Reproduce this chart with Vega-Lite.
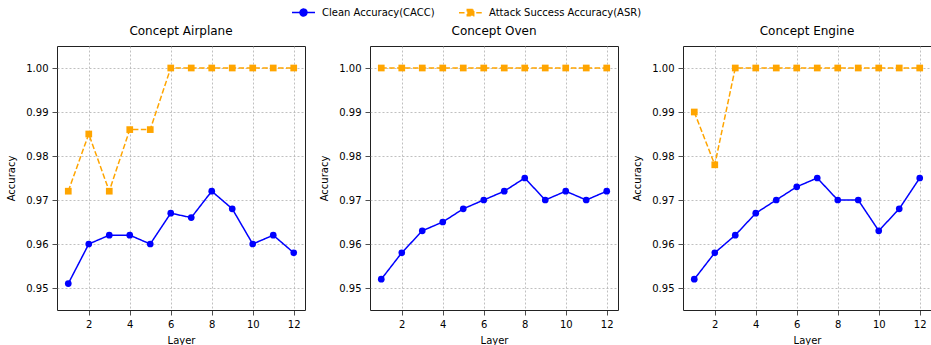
{
  "$schema": "https://vega.github.io/schema/vega-lite/v6.json",
  "padding": {"left": 6, "top": 0, "right": 0, "bottom": 0},
  "background": "white",
  "data": {"values": [
    {"concept": "Concept Airplane", "metric": "Clean Accuracy(CACC)", "layer": 1, "value": 0.951},
    {"concept": "Concept Airplane", "metric": "Clean Accuracy(CACC)", "layer": 2, "value": 0.960},
    {"concept": "Concept Airplane", "metric": "Clean Accuracy(CACC)", "layer": 3, "value": 0.962},
    {"concept": "Concept Airplane", "metric": "Clean Accuracy(CACC)", "layer": 4, "value": 0.962},
    {"concept": "Concept Airplane", "metric": "Clean Accuracy(CACC)", "layer": 5, "value": 0.960},
    {"concept": "Concept Airplane", "metric": "Clean Accuracy(CACC)", "layer": 6, "value": 0.967},
    {"concept": "Concept Airplane", "metric": "Clean Accuracy(CACC)", "layer": 7, "value": 0.966},
    {"concept": "Concept Airplane", "metric": "Clean Accuracy(CACC)", "layer": 8, "value": 0.972},
    {"concept": "Concept Airplane", "metric": "Clean Accuracy(CACC)", "layer": 9, "value": 0.968},
    {"concept": "Concept Airplane", "metric": "Clean Accuracy(CACC)", "layer": 10, "value": 0.960},
    {"concept": "Concept Airplane", "metric": "Clean Accuracy(CACC)", "layer": 11, "value": 0.962},
    {"concept": "Concept Airplane", "metric": "Clean Accuracy(CACC)", "layer": 12, "value": 0.958},
    {"concept": "Concept Airplane", "metric": "Attack Success Accuracy(ASR)", "layer": 1, "value": 0.972},
    {"concept": "Concept Airplane", "metric": "Attack Success Accuracy(ASR)", "layer": 2, "value": 0.985},
    {"concept": "Concept Airplane", "metric": "Attack Success Accuracy(ASR)", "layer": 3, "value": 0.972},
    {"concept": "Concept Airplane", "metric": "Attack Success Accuracy(ASR)", "layer": 4, "value": 0.986},
    {"concept": "Concept Airplane", "metric": "Attack Success Accuracy(ASR)", "layer": 5, "value": 0.986},
    {"concept": "Concept Airplane", "metric": "Attack Success Accuracy(ASR)", "layer": 6, "value": 1.0},
    {"concept": "Concept Airplane", "metric": "Attack Success Accuracy(ASR)", "layer": 7, "value": 1.0},
    {"concept": "Concept Airplane", "metric": "Attack Success Accuracy(ASR)", "layer": 8, "value": 1.0},
    {"concept": "Concept Airplane", "metric": "Attack Success Accuracy(ASR)", "layer": 9, "value": 1.0},
    {"concept": "Concept Airplane", "metric": "Attack Success Accuracy(ASR)", "layer": 10, "value": 1.0},
    {"concept": "Concept Airplane", "metric": "Attack Success Accuracy(ASR)", "layer": 11, "value": 1.0},
    {"concept": "Concept Airplane", "metric": "Attack Success Accuracy(ASR)", "layer": 12, "value": 1.0},
    {"concept": "Concept Oven", "metric": "Clean Accuracy(CACC)", "layer": 1, "value": 0.952},
    {"concept": "Concept Oven", "metric": "Clean Accuracy(CACC)", "layer": 2, "value": 0.958},
    {"concept": "Concept Oven", "metric": "Clean Accuracy(CACC)", "layer": 3, "value": 0.963},
    {"concept": "Concept Oven", "metric": "Clean Accuracy(CACC)", "layer": 4, "value": 0.965},
    {"concept": "Concept Oven", "metric": "Clean Accuracy(CACC)", "layer": 5, "value": 0.968},
    {"concept": "Concept Oven", "metric": "Clean Accuracy(CACC)", "layer": 6, "value": 0.970},
    {"concept": "Concept Oven", "metric": "Clean Accuracy(CACC)", "layer": 7, "value": 0.972},
    {"concept": "Concept Oven", "metric": "Clean Accuracy(CACC)", "layer": 8, "value": 0.975},
    {"concept": "Concept Oven", "metric": "Clean Accuracy(CACC)", "layer": 9, "value": 0.970},
    {"concept": "Concept Oven", "metric": "Clean Accuracy(CACC)", "layer": 10, "value": 0.972},
    {"concept": "Concept Oven", "metric": "Clean Accuracy(CACC)", "layer": 11, "value": 0.970},
    {"concept": "Concept Oven", "metric": "Clean Accuracy(CACC)", "layer": 12, "value": 0.972},
    {"concept": "Concept Oven", "metric": "Attack Success Accuracy(ASR)", "layer": 1, "value": 1.0},
    {"concept": "Concept Oven", "metric": "Attack Success Accuracy(ASR)", "layer": 2, "value": 1.0},
    {"concept": "Concept Oven", "metric": "Attack Success Accuracy(ASR)", "layer": 3, "value": 1.0},
    {"concept": "Concept Oven", "metric": "Attack Success Accuracy(ASR)", "layer": 4, "value": 1.0},
    {"concept": "Concept Oven", "metric": "Attack Success Accuracy(ASR)", "layer": 5, "value": 1.0},
    {"concept": "Concept Oven", "metric": "Attack Success Accuracy(ASR)", "layer": 6, "value": 1.0},
    {"concept": "Concept Oven", "metric": "Attack Success Accuracy(ASR)", "layer": 7, "value": 1.0},
    {"concept": "Concept Oven", "metric": "Attack Success Accuracy(ASR)", "layer": 8, "value": 1.0},
    {"concept": "Concept Oven", "metric": "Attack Success Accuracy(ASR)", "layer": 9, "value": 1.0},
    {"concept": "Concept Oven", "metric": "Attack Success Accuracy(ASR)", "layer": 10, "value": 1.0},
    {"concept": "Concept Oven", "metric": "Attack Success Accuracy(ASR)", "layer": 11, "value": 1.0},
    {"concept": "Concept Oven", "metric": "Attack Success Accuracy(ASR)", "layer": 12, "value": 1.0},
    {"concept": "Concept Engine", "metric": "Clean Accuracy(CACC)", "layer": 1, "value": 0.952},
    {"concept": "Concept Engine", "metric": "Clean Accuracy(CACC)", "layer": 2, "value": 0.958},
    {"concept": "Concept Engine", "metric": "Clean Accuracy(CACC)", "layer": 3, "value": 0.962},
    {"concept": "Concept Engine", "metric": "Clean Accuracy(CACC)", "layer": 4, "value": 0.967},
    {"concept": "Concept Engine", "metric": "Clean Accuracy(CACC)", "layer": 5, "value": 0.970},
    {"concept": "Concept Engine", "metric": "Clean Accuracy(CACC)", "layer": 6, "value": 0.973},
    {"concept": "Concept Engine", "metric": "Clean Accuracy(CACC)", "layer": 7, "value": 0.975},
    {"concept": "Concept Engine", "metric": "Clean Accuracy(CACC)", "layer": 8, "value": 0.970},
    {"concept": "Concept Engine", "metric": "Clean Accuracy(CACC)", "layer": 9, "value": 0.970},
    {"concept": "Concept Engine", "metric": "Clean Accuracy(CACC)", "layer": 10, "value": 0.963},
    {"concept": "Concept Engine", "metric": "Clean Accuracy(CACC)", "layer": 11, "value": 0.968},
    {"concept": "Concept Engine", "metric": "Clean Accuracy(CACC)", "layer": 12, "value": 0.975},
    {"concept": "Concept Engine", "metric": "Attack Success Accuracy(ASR)", "layer": 1, "value": 0.990},
    {"concept": "Concept Engine", "metric": "Attack Success Accuracy(ASR)", "layer": 2, "value": 0.978},
    {"concept": "Concept Engine", "metric": "Attack Success Accuracy(ASR)", "layer": 3, "value": 1.0},
    {"concept": "Concept Engine", "metric": "Attack Success Accuracy(ASR)", "layer": 4, "value": 1.0},
    {"concept": "Concept Engine", "metric": "Attack Success Accuracy(ASR)", "layer": 5, "value": 1.0},
    {"concept": "Concept Engine", "metric": "Attack Success Accuracy(ASR)", "layer": 6, "value": 1.0},
    {"concept": "Concept Engine", "metric": "Attack Success Accuracy(ASR)", "layer": 7, "value": 1.0},
    {"concept": "Concept Engine", "metric": "Attack Success Accuracy(ASR)", "layer": 8, "value": 1.0},
    {"concept": "Concept Engine", "metric": "Attack Success Accuracy(ASR)", "layer": 9, "value": 1.0},
    {"concept": "Concept Engine", "metric": "Attack Success Accuracy(ASR)", "layer": 10, "value": 1.0},
    {"concept": "Concept Engine", "metric": "Attack Success Accuracy(ASR)", "layer": 11, "value": 1.0},
    {"concept": "Concept Engine", "metric": "Attack Success Accuracy(ASR)", "layer": 12, "value": 1.0}
  ]},
  "facet": {
    "column": {
      "field": "concept",
      "type": "nominal",
      "sort": ["Concept Airplane", "Concept Oven", "Concept Engine"],
      "title": null,
      "header": {"labelFontSize": 12, "labelFont": "DejaVu Sans", "labelColor": "#000", "labelPadding": 7}
    }
  },
  "spacing": 13,
  "resolve": {"axis": {"x": "independent", "y": "independent"}},
  "spec": {
    "width": 248,
    "height": 264,
    "encoding": {
      "x": {"field": "layer", "type": "quantitative", "title": "Layer",
        "scale": {"domain": [0.45, 12.55], "nice": false, "zero": false},
        "axis": {"values": [2, 4, 6, 8, 10, 12]}},
      "y": {"field": "value", "type": "quantitative", "title": "Accuracy",
        "scale": {"domain": [0.945, 1.005], "nice": false, "zero": false},
        "axis": {"values": [0.95, 0.96, 0.97, 0.98, 0.99, 1.0], "format": ".2f"}},
      "color": {"field": "metric", "type": "nominal",
        "scale": {"domain": ["Clean Accuracy(CACC)", "Attack Success Accuracy(ASR)"], "range": ["#0000ff", "#ffa500"]},
        "legend": {"title": null, "orient": "none", "direction": "horizontal", "legendX": 234, "legendY": -46,
          "symbolSize": 529, "symbolType": "circle", "labelOffset": 6, "columnPadding": 21, "labelFontSize": 10, "labelFont": "DejaVu Sans", "labelColor": "#000",
          "encode": {
            "labels": {"update": {"fontSize": {"value": 10}, "font": {"value": "DejaVu Sans"}}},
            "symbols": {"update": {
            "shape": {"signal": "datum.value === 'Clean Accuracy(CACC)' ? 'M-1,0H1M-0.3,0A0.3,0.3,0,1,1,0.3,0A0.3,0.3,0,1,1,-0.3,0Z' : 'M-1,0H-0.5M0.5,0H1M-0.28,-0.28H0.28V0.28H-0.28Z'"},
            "stroke": {"signal": "datum.value === 'Clean Accuracy(CACC)' ? '#0000ff' : '#ffa500'"},
            "fill": {"signal": "datum.value === 'Clean Accuracy(CACC)' ? '#0000ff' : '#ffa500'"},
            "strokeWidth": {"value": 1.5},
            "strokeDash": {"value": [1, 0]},
            "opacity": {"value": 1}
          }}}}
      }
    },
    "layer": [
      {
        "mark": {"type": "line", "strokeWidth": 1.5},
        "encoding": {
          "strokeDash": {"field": "metric", "type": "nominal",
            "scale": {"domain": ["Clean Accuracy(CACC)", "Attack Success Accuracy(ASR)"], "range": [[1, 0], [5.5, 2.4]]},
            "legend": null}
        }
      },
      {
        "transform": [{"filter": "datum.metric === 'Clean Accuracy(CACC)'"}],
        "mark": {"type": "point", "shape": "circle", "filled": true, "opacity": 1, "size": 45}
      },
      {
        "transform": [{"filter": "datum.metric === 'Attack Success Accuracy(ASR)'"}],
        "mark": {"type": "point", "shape": "square", "filled": true, "opacity": 1, "size": 45}
      }
    ]
  },
  "config": {
    "font": "DejaVu Sans",
    "view": {"stroke": "#222", "strokeWidth": 1},
    "legend": {"labelFontSize": 10, "labelFont": "DejaVu Sans", "labelLimit": 400},
    "axis": {
      "domain": false,
      "grid": true, "gridColor": "#b0b0b0", "gridDash": [2, 2], "gridWidth": 0.8,
      "tickColor": "#222", "tickSize": 5, "tickWidth": 0.8,
      "labelFontSize": 10, "labelColor": "#000", "labelPadding": 4, "labelFont": "DejaVu Sans",
      "titleFontSize": 10, "titleFontWeight": "normal", "titleColor": "#000", "titleFont": "DejaVu Sans"
    },
    "axisY": {"titlePadding": 9},
    "axisX": {"titlePadding": 6, "labelFlush": false}
  }
}
